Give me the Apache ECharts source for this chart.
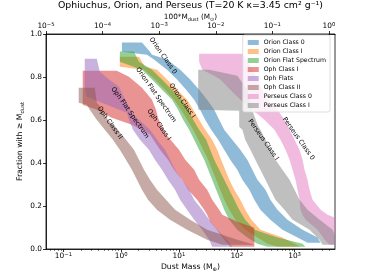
<!DOCTYPE html>
<html><head><meta charset="utf-8">
<script src="https://cdn.jsdelivr.net/npm/echarts@6/dist/echarts.min.js"></script>
<style>html,body{margin:0;padding:0;background:#fff}#c{width:372px;height:279px}</style>
</head><body><div id="c"></div>
<script>
// ---------------- data ----------------
const seriesNames = ['Orion Class 0','Orion Class I','Orion Flat Spectrum','Oph Class I','Oph Flats','Oph Class II','Perseus Class 0','Perseus Class I'];
const seriesColors = ['#1f77b4','#ff7f0e','#2ca02c','#d62728','#9467bd','#8c564b','#e377c2','#7f7f7f'];

// each band: fraction level, lower dust mass, upper dust mass (Earth masses)
const orion0Frac = [0.960,0.918,0.904,0.881,0.834,0.788,0.741,0.694,0.648,0.601,0.555,0.508,0.462,0.415,0.369,0.322,0.276,0.229,0.183,0.136,0.090,0.053,0.029];
const orion0Lo   = [1.03,1.03,2.79,3.69,6.21,9.26,13.3,18.3,23.2,28.4,36.1,47.7,60.6,77.0,102,125,165,201,256,381,616,1123,1674];
const orion0Hi   = [2.29,3.15,3.41,6.21,10.5,15.6,22.3,30.7,40.7,49.6,60.6,83.4,115,152,186,227,313,381,505,752,1371,2497,2815];

const orion1Frac = [0.894,0.871,0.848,0.834,0.788,0.741,0.694,0.648,0.601,0.555,0.508,0.462,0.415,0.369,0.322,0.276,0.229,0.183,0.136,0.090,0.053,0.025,0.011];
const orion1Lo   = [0.948,0.948,0.948,2.48,3.84,5.73,8.21,10.9,13.8,17.6,21.5,26.2,32.0,37.5,44.0,51.7,60.6,74.0,94.3,140,227,339,505];
const orion1Hi   = [2.03,2.29,2.58,4.16,6.21,9.26,13.8,17.6,22.3,28.4,37.5,45.8,53.6,63.0,74.0,90.4,115,140,179,256,616,1000,1266];

const orionFSFrac = [0.919,0.890,0.871,0.834,0.788,0.741,0.694,0.648,0.601,0.555,0.508,0.462,0.415,0.369,0.322,0.276,0.229,0.183,0.136,0.090,0.053,0.025,0.011];
const orionFSLo   = [0.948,0.948,0.948,2.29,3.41,5.08,7.58,9.65,11.8,15.0,18.3,22.3,27.3,32.0,37.5,44.0,51.7,60.6,74.0,102,152,227,339];
const orionFSHi   = [1.66,1.87,2.03,3.41,5.08,7.58,11.3,14.4,17.6,22.3,29.5,34.6,40.7,49.6,60.6,74.0,90.4,110,140,201,505,1371,1546];

const oph1Frac = [0.829,0.801,0.750,0.694,0.671,0.648,0.611,0.578,0.532,0.462,0.415,0.369,0.322,0.276,0.229,0.183,0.159,0.127,0.099,0.043,0.011];
const oph1Lo   = [0.216,0.216,0.216,0.216,0.216,0.378,0.689,1.53,3.15,4.70,6.46,8.21,11.3,14.4,20.6,27.3,30.7,34.6,42.3,60.6,77.0];
const oph1Hi   = [0.836,1.36,2.29,3.41,3.69,4.00,4.33,4.88,5.97,10.0,12.8,18.3,22.3,30.7,37.5,49.6,56.0,102,201,201,201];

const ophFlatFrac = [0.885,0.825,0.788,0.755,0.708,0.671,0.634,0.601,0.555,0.508,0.462,0.415,0.369,0.322,0.276,0.229,0.183,0.136,0.090,0.043,0.011];
const ophFlatLo   = [0.234,0.234,0.234,0.234,0.254,0.565,1.26,1.36,1.60,2.11,3.02,3.84,5.08,6.46,8.55,10.45,13.8,18.3,25.2,33.3,37.5];
const ophFlatHi   = [0.378,0.427,0.611,0.915,1.11,1.31,1.53,2.03,3.15,4.16,5.73,7.0,8.55,11.3,15.0,18.3,25.2,33.3,45.8,68.4,83.4];

const oph2Frac = [0.750,0.680,0.671,0.648,0.601,0.555,0.508,0.462,0.415,0.369,0.322,0.276,0.229,0.183,0.136,0.090,0.043,0.020];
const oph2Lo   = [0.184,0.184,0.254,0.286,0.378,0.521,0.718,0.948,1.21,1.53,1.87,2.29,2.91,4.16,7.0,13.8,30.7,56.0];
const oph2Hi   = [0.349,0.378,0.410,0.463,0.587,0.877,1.21,1.66,2.03,2.48,3.15,4.16,5.97,8.55,15.6,30.7,102,201];

const pers0Frac = [0.908,0.871,0.834,0.811,0.788,0.741,0.694,0.648,0.601,0.555,0.508,0.462,0.415,0.369,0.322,0.276,0.229,0.183,0.159,0.136,0.090,0.043,0.020];
const pers0Lo   = [22.3,22.3,25.2,37.5,51.7,77.0,115,186,301,448,569,697,817,922,1037,1123,1216,1266,1371,1546,2497,3302,4033];
const pers0Hi   = [125,152,186,209,227,277,339,505,668,817,997,1216,1371,1486,1674,1814,2045,2815,3723,6000,6000,6000,6000];

const pers1Frac = [0.834,0.806,0.741,0.648,0.643,0.569,0.555,0.508,0.462,0.415,0.369,0.322,0.276,0.229,0.183,0.136,0.090,0.043,0.020];
const pers1Lo   = [21.5,21.5,21.5,21.5,110,110,125,140,172,209,256,313,381,466,668,922,1814,2709,3050];
const pers1Hi   = [33.3,102,152,186,186,236,256,313,381,466,616,817,997,1216,1674,2709,4547,5330,5330];

const bottomTicks = [0.1,1,10,100,1000];
const topTicks = [1e-5,1e-4,1e-3,1e-2,1e-1,1];
const yTicks = [0,0.2,0.4,0.6,0.8,1.0];

const bandLabels = ['Orion Class 0','Orion Class I','Orion Flat Spectrum','Oph Class I','Oph Flat Spectrum','Oph Class II','Perseus Class I','Perseus Class 0'];
// anchor (mass, fraction) of each band label
const bandLabelMass = [5.29,11.3,4.0,4.5,1.42,0.636,288,1168];
const bandLabelFrac = [0.899,0.690,0.717,0.578,0.634,0.587,0.508,0.513];

// ---------------- chart ----------------
const FONT = 'DejaVu Sans';
function rgba(hex, a){
  const n = parseInt(hex.slice(1),16);
  return 'rgba('+((n>>16)&255)+','+((n>>8)&255)+','+(n&255)+','+a+')';
}
const bands = [
  [orion0Frac, orion0Lo, orion0Hi],
  [orion1Frac, orion1Lo, orion1Hi],
  [orionFSFrac, orionFSLo, orionFSHi],
  [oph1Frac, oph1Lo, oph1Hi],
  [ophFlatFrac, ophFlatLo, ophFlatHi],
  [oph2Frac, oph2Lo, oph2Hi],
  [pers0Frac, pers0Lo, pers0Hi],
  [pers1Frac, pers1Lo, pers1Hi]
];
function powLabel(v){
  const e = Math.round(Math.log10(v));
  return '{b|10}{e|' + String(e).replace('-', '−') + '}';
}
const powRich = {
  b: { fontFamily: FONT, fontSize: 7.4, color: '#000', lineHeight: 9 },
  e: { fontFamily: FONT, fontSize: 5.3, color: '#000', lineHeight: 6, verticalAlign: 'top' }
};
const minorTicks = [];
for (let e=-2; e<=3; e++) for (let k=2; k<=9; k++) {
  const v = k*Math.pow(10,e);
  if (v > 0.05 && v < 5000) minorTicks.push(+v.toPrecision(3));
}

const series = bands.map((b, k) => {
  const fill = rgba(seriesColors[k], 0.5);
  const pts = b[0].map((f, i) => [b[1][i], f, b[2][i]]);
  return {
    type: 'custom', name: seriesNames[k], coordinateSystem: 'cartesian2d',
    xAxisIndex: 0, yAxisIndex: 0, silent: true,
    itemStyle: { color: fill },
    encode: { x: [0, 2], y: 1 },
    data: pts,
    renderItem: function (params, api) {
      if (params.dataIndex !== 0) return null;
      const poly = [];
      for (let i = 0; i < pts.length; i++) poly.push(api.coord([pts[i][0], pts[i][1]]));
      for (let i = pts.length - 1; i >= 0; i--) poly.push(api.coord([pts[i][2], pts[i][1]]));
      const cs = params.coordSys;
      return {
        type: 'polygon', shape: { points: poly },
        style: { fill: fill, stroke: null },
        clipPath: { type: 'rect', shape: { x: cs.x, y: cs.y, width: cs.width, height: cs.height } }
      };
    }
  };
});

const axisLineStyle = { color: '#000', width: 0.8 };
const subRich = {
  a: { fontFamily: FONT, fontSize: 7.7, color: '#000', lineHeight: 10 },
  s: { fontFamily: FONT, fontSize: 5.3, color: '#000', lineHeight: 5, verticalAlign: 'bottom' }
};
const subRichTop = {
  a: { fontFamily: FONT, fontSize: 7.3, color: '#000', lineHeight: 9 },
  s: { fontFamily: FONT, fontSize: 5, color: '#000', lineHeight: 4.5, verticalAlign: 'bottom' }
};

const chart = echarts.init(document.getElementById('c'), null, { renderer: 'canvas' });
chart.setOption({
  animation: false,
  backgroundColor: '#fff',
  title: {
    text: 'Ophiuchus, Orion, and Perseus (T=20 K κ=3.45 cm² g⁻¹)',
    left: 190.5, top: 1, textAlign: 'center', padding: 0,
    textStyle: { fontFamily: FONT, fontSize: 9.4, fontWeight: 'normal', color: '#000' }
  },
  grid: { left: 46, right: 37, top: 34, bottom: 30, show: true, borderColor: '#000', borderWidth: 0.8, backgroundColor: 'transparent' },
  legend: {
    orient: 'vertical', right: 42, top: 35,
    icon: 'rect', itemWidth: 11, itemHeight: 5, itemGap: 2,
    padding: [4, 4, 3, 5],
    backgroundColor: 'rgba(255,255,255,0.8)', borderColor: '#d5d5d5', borderWidth: 0.8, borderRadius: 2,
    textStyle: { fontFamily: FONT, fontSize: 6.2, color: '#000', lineHeight: 7 },
    data: seriesNames.map((n, k) => ({ name: n, itemStyle: { color: rgba(seriesColors[k], 0.5) } })),
    selectedMode: false, z: 10
  },
  xAxis: [
    {
      type: 'log', logBase: 10, min: 0.05, max: 5000, position: 'bottom',
      axisLine: { show: true, lineStyle: axisLineStyle },
      axisTick: { show: true, length: 3, customValues: bottomTicks, lineStyle: axisLineStyle },
      axisLabel: { customValues: bottomTicks, formatter: powLabel, rich: powRich, margin: 3 },
      splitLine: { show: false },
      name: '{a|Dust Mass (M}{s|⊕}{a|)}', nameLocation: 'middle', nameGap: 13.5, nameMoveOverlap: false,
      nameTextStyle: { rich: subRich }
    },
    {
      type: 'log', logBase: 10, min: 0.05, max: 5000, position: 'bottom', gridIndex: 0,
      axisLine: { show: false },
      axisTick: { show: true, length: 1.8, customValues: minorTicks, lineStyle: { color: '#000', width: 0.6 } },
      axisLabel: { show: false }, splitLine: { show: false }
    },
    {
      type: 'log', logBase: 10, min: 1e-5, max: 1.28, position: 'top', gridIndex: 0,
      axisLine: { show: true, lineStyle: axisLineStyle },
      axisTick: { show: true, length: 3, customValues: topTicks, lineStyle: axisLineStyle },
      axisLabel: { customValues: topTicks, formatter: powLabel, rich: powRich, margin: 3 },
      splitLine: { show: false },
      name: '{a|100*M}{s|dust}{a| (M}{s|⊙}{a|)}', nameLocation: 'middle', nameGap: 12, nameMoveOverlap: false,
      nameTextStyle: { rich: subRichTop }
    }
  ],
  yAxis: {
    type: 'value', min: 0, max: 1, interval: 0.2,
    axisLine: { show: true, lineStyle: axisLineStyle },
    axisTick: { show: true, length: 3, lineStyle: axisLineStyle },
    axisLabel: { formatter: v => v.toFixed(1), fontFamily: FONT, fontSize: 7.4, color: '#000', margin: 4 },
    splitLine: { show: false },
    name: '{a|Fraction with ≥ M}{s|dust}', nameLocation: 'middle', nameGap: 21, nameRotate: 90, nameMoveOverlap: false,
    nameTextStyle: { rich: subRich }
  },
  series: series
});

const graphics = bandLabels.map((t, i) => {
  const p = chart.convertToPixel({ xAxisIndex: 0, yAxisIndex: 0 }, [bandLabelMass[i], bandLabelFrac[i]]);
  return {
    type: 'text', x: p[0], y: p[1], rotation: -55 * Math.PI / 180, z: 20, silent: true,
    style: { text: t, fontFamily: FONT, fontSize: 6.5, fill: '#000', align: 'center', verticalAlign: 'middle' }
  };
});
chart.setOption({ graphic: graphics });
</script></body></html>
